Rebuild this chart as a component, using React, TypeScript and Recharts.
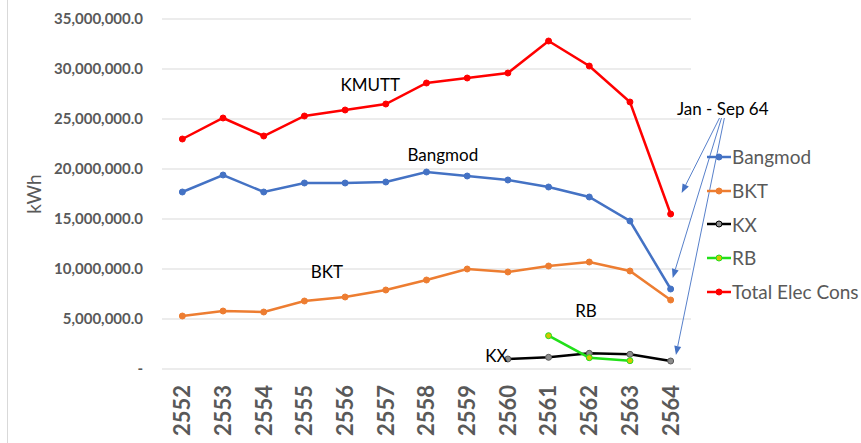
import React from 'react';
import { LineChart, Line, XAxis, YAxis, CartesianGrid, ReferenceDot, ReferenceLine } from 'recharts';

const years = [2552, 2553, 2554, 2555, 2556, 2557, 2558, 2559, 2560, 2561, 2562, 2563, 2564];
const bangmod = [17.7, 19.4, 17.7, 18.6, 18.6, 18.7, 19.7, 19.3, 18.9, 18.2, 17.2, 14.8, 8.0];
const bkt = [5.3, 5.8, 5.7, 6.8, 7.2, 7.9, 8.9, 10.0, 9.7, 10.3, 10.7, 9.8, 6.9];
const kx = [null, null, null, null, null, null, null, null, 1.0, 1.17, 1.57, 1.47, 0.8];
const rb = [null, null, null, null, null, null, null, null, null, 3.33, 1.13, 0.83, null];
const total = [23.0, 25.1, 23.3, 25.3, 25.9, 26.5, 28.6, 29.1, 29.6, 32.8, 30.3, 26.7, 15.5];
const yTicks = [0, 5000000, 10000000, 15000000, 20000000, 25000000, 30000000, 35000000];

const M = 1000000;
const data = years.map((y, i) => ({
  year: y,
  bangmod: bangmod[i] * M,
  bkt: bkt[i] * M,
  kx: kx[i] == null ? null : (kx[i] as number) * M,
  rb: rb[i] == null ? null : (rb[i] as number) * M,
  total: total[i] * M,
}));

// annotation labels [text, x, y(M)]
const notes: [string, number, number][] = [
  ['KMUTT', 2556.62, 28.4],
  ['Bangmod', 2558.4, 21.4],
  ['BKT', 2555.55, 9.7],
  ['RB', 2561.92, 5.8],
  ['KX', 2559.72, 1.3],
  ['Jan - Sep 64', 2565.28, 26.0],
];

// arrows from the "Jan - Sep 64" note to the 2564 points
const arrows: [number, number, number, number][] = [
  [2565.2, 25.1, 2564.27, 17.6],
  [2565.25, 25.1, 2564.05, 9.1],
  [2565.32, 25.1, 2564.13, 1.4],
];

const font = 'Lato, "Open Sans", sans-serif';
const grey = '#595959';

const legendItems = [
  { name: 'Bangmod', color: '#4472c4', fill: '#4472c4' },
  { name: 'BKT', color: '#ed7d31', fill: '#ed7d31' },
  { name: 'KX', color: '#000000', fill: '#8c8c8c' },
  { name: 'RB', color: '#22e01a', fill: '#d4c400' },
  { name: 'Total Elec Cons', color: '#ff0000', fill: '#ff0000' },
];

const fmt = (v: number) => (v === 0 ? '-' : v.toLocaleString('en-US', { minimumFractionDigits: 1 }));

const YearTick = (props: any) => {
  const { x, y, payload } = props;
  return (
    <g transform={`translate(${x},${y})`}>
      <text transform="rotate(-90)" textAnchor="end" dy="0.36em" fill={grey} fontSize={22} fontWeight={700} fontFamily={font}>
        {payload.value}
      </text>
    </g>
  );
};

const Arrow = (props: any) => {
  const { x1, y1, x2, y2 } = props;
  const a = Math.atan2(y2 - y1, x2 - x1);
  const L = 9, W = 3.5;
  const bx = x2 - L * Math.cos(a), by = y2 - L * Math.sin(a);
  const p = `${x2},${y2} ${bx + W * Math.sin(a)},${by - W * Math.cos(a)} ${bx - W * Math.sin(a)},${by + W * Math.cos(a)}`;
  return (
    <g>
      <line x1={x1} y1={y1} x2={bx} y2={by} stroke="#4472c4" strokeWidth={0.9} />
      <polygon points={p} fill="#4472c4" />
    </g>
  );
};

const dot = (stroke: string, fill: string) => ({ r: 3, stroke, strokeWidth: 1, fill });

export default function App() {
  return (
    <div style={{ position: 'absolute', left: 0, top: 0, width: 861, height: 443, background: '#fff', overflow: 'hidden' }}>
      <div style={{ position: 'absolute', left: 7, top: 0, width: 1, height: 443, background: '#d9d9d9' }} />
      <LineChart width={861} height={443} data={data} margin={{ top: 19, right: 170, bottom: 4, left: 0 }}>
        <CartesianGrid vertical={false} stroke="#d9d9d9" />
        <XAxis
          dataKey="year"
          type="number"
          domain={[2551.5, 2564.5]}
          ticks={years}
          interval={0}
          axisLine={false}
          tickLine={false}
          height={70}
          tickMargin={10}
          tick={<YearTick />}
        />
        <YAxis
          domain={[0, 35000000]}
          ticks={yTicks}
          width={162}
          axisLine={false}
          tickLine={false}
          tickMargin={13}
          tickFormatter={fmt}
          tick={{ fill: grey, fontSize: 15, fontWeight: 700, fontFamily: font }}
          label={{ value: 'kWh', angle: -90, position: 'insideLeft', offset: 34, fill: grey, fontSize: 19, fontFamily: font, style: { textAnchor: 'middle' } }}
        />
        <Line dataKey="bangmod" stroke="#4472c4" strokeWidth={2.5} dot={dot('#4472c4', '#4472c4')} isAnimationActive={false} />
        <Line dataKey="bkt" stroke="#ed7d31" strokeWidth={2.5} dot={dot('#ed7d31', '#ed7d31')} isAnimationActive={false} />
        <Line dataKey="kx" stroke="#000000" strokeWidth={2.5} dot={dot('#595959', '#8c8c8c')} isAnimationActive={false} />
        <Line dataKey="rb" stroke="#22e01a" strokeWidth={2.5} dot={dot('#22e01a', '#d4c400')} isAnimationActive={false} />
        <Line dataKey="total" stroke="#ff0000" strokeWidth={2.5} dot={dot('#ff0000', '#ff0000')} isAnimationActive={false} />
        {arrows.map((a, i) => (
          <ReferenceLine
            key={i}
            segment={[{ x: a[0], y: a[1] * M }, { x: a[2], y: a[3] * M }]}
            ifOverflow="visible"
            shape={<Arrow />}
          />
        ))}
        {notes.map(([t, x, y]) => (
          <ReferenceDot
            key={t}
            x={x}
            y={y * M}
            r={0}
            ifOverflow="visible"
            label={{ value: t, position: 'center', fill: '#000', fontSize: 17, fontFamily: font }}
          />
        ))}
      </LineChart>
      <div style={{ position: 'absolute', left: 707, top: 140, fontFamily: font, fontSize: 19, lineHeight: '33.75px', color: grey }}>
        {legendItems.map((it) => (
          <div key={it.name} style={{ display: 'flex', alignItems: 'center', height: 33.75, overflow: 'hidden', whiteSpace: 'nowrap' }}>
            <svg width={24} height={10} style={{ marginRight: 1, flexShrink: 0 }}>
              <line x1={0} y1={5} x2={24} y2={5} stroke={it.color} strokeWidth={2.5} />
              <circle cx={12} cy={5} r={3} fill={it.fill} stroke={it.color} strokeWidth={1} />
            </svg>
            <span>{it.name}</span>
          </div>
        ))}
      </div>
    </div>
  );
}
